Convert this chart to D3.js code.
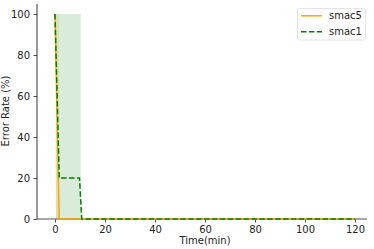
<!DOCTYPE html>
<html><head><meta charset="utf-8">
<script src="https://cdn.jsdelivr.net/npm/d3@7"></script>
<style>body{margin:0;background:#fff}svg{display:block}text{font-family:"DejaVu Sans",sans-serif}</style>
</head><body><svg id="c" width="374" height="249"></svg>
<script>
const xTicks=[0,20,40,60,80,100,120];
const yTicks=[0,20,40,60,80,100];
const smac5Time=[0,1.7,120];
const smac5Err=[100,0,0];
const smac1Time=[0,1.7,9.8,10.7,120];
const smac1Err=[100,20,20,0,0];
const bandTime=[0.4,10.3];
const bandLow=[0,0];
const bandHigh=[100,100];
const band5Time=[0.2,1.6];
const band5Low=[0,0];
const band5High=[100,100];
const seriesNames=["smac5","smac1"];
const seriesColors=["#FFA500","#008000"];

const svg=d3.select("#c");
const L=37,R=367,T=4,B=219;
const FS=10;
const x=d3.scaleLinear().domain([-7.2,124.8]).range([L,R]);
const y=d3.scaleLinear().domain([0,104.9]).range([B,T]);

const area=d3.area().x(d=>x(d[0])).y0(d=>y(d[1])).y1(d=>y(d[2]));
svg.append("path").datum(band5Time.map((t,i)=>[t,band5Low[i],band5High[i]]))
  .attr("d",area).attr("fill","#FFA500").attr("fill-opacity",0.15);
svg.append("path").datum(bandTime.map((t,i)=>[t,bandLow[i],bandHigh[i]]))
  .attr("d",area).attr("fill","#008000").attr("fill-opacity",0.15);

// x axis
const gx=svg.append("g").attr("transform",`translate(0,${B})`)
  .call(d3.axisBottom(x).tickValues(xTicks).tickSize(3.5).tickPadding(3.5));
gx.select(".domain").remove();
gx.selectAll("text").attr("font-size",FS).attr("fill","#222");
gx.selectAll("line").attr("stroke","#222").attr("stroke-width",0.8);
svg.append("line").attr("x1",L).attr("x2",R).attr("y1",y(0)).attr("y2",y(0))
  .attr("stroke","#888").attr("stroke-width",1.5);

const line=d3.line().x(d=>x(d[0])).y(d=>y(d[1]));
svg.append("path").datum(smac5Time.map((t,i)=>[t,smac5Err[i]]))
  .attr("d",line).attr("fill","none").attr("stroke",seriesColors[0]).attr("stroke-width",1.5);
svg.append("path").datum(smac1Time.map((t,i)=>[t,smac1Err[i]]))
  .attr("d",line).attr("fill","none").attr("stroke",seriesColors[1]).attr("stroke-width",1.5)
  .attr("stroke-dasharray","5.5,2.4");

// y axis
const gy=svg.append("g").attr("transform",`translate(${L},0)`)
  .call(d3.axisLeft(y).tickValues(yTicks).tickSize(3.5).tickPadding(3.5));
gy.select(".domain").attr("stroke","#000").attr("stroke-width",0.8).attr("d",`M0,${B}V${T}`);
gy.selectAll("text").attr("font-size",FS).attr("fill","#222");
gy.selectAll("line").attr("stroke","#222").attr("stroke-width",0.8);

svg.append("text").attr("x",205).attr("y",244).attr("text-anchor","middle")
  .attr("font-size",FS).attr("fill","#222").text("Time(min)");
svg.append("text").attr("transform",`translate(9,${111}) rotate(-90)`).attr("text-anchor","middle")
  .attr("font-size",FS).attr("fill","#222").text("Error Rate (%)");

// legend
const lg=svg.append("g");
lg.append("rect").attr("x",297.5).attr("y",8.5).attr("width",68).attr("height",31.5)
  .attr("rx",2).attr("fill","#fff").attr("fill-opacity",0.8).attr("stroke","#ddd").attr("stroke-width",0.8);
seriesNames.forEach((n,i)=>{
  const yy=15.8+i*16;
  lg.append("line").attr("x1",301).attr("x2",322).attr("y1",yy).attr("y2",yy)
    .attr("stroke",seriesColors[i]).attr("stroke-width",1.5)
    .attr("stroke-dasharray",i===1?"5.5,2.4":null);
  lg.append("text").attr("x",329).attr("y",yy+3.6).attr("font-size",FS).attr("fill","#222").text(n);
});
</script></body></html>
